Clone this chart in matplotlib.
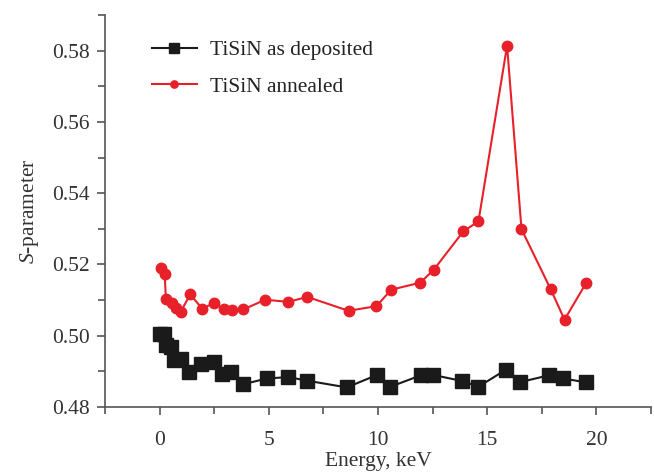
import numpy as np
import matplotlib.pyplot as plt
from matplotlib.ticker import MultipleLocator

plt.rcParams['font.family'] = ['Liberation Serif', 'DejaVu Serif']
plt.rcParams['mathtext.fontset'] = 'custom'
plt.rcParams['mathtext.it'] = 'Liberation Serif:italic'

#-------------- data --------------
E_dep = [0.0, 0.2, 0.29, 0.52, 0.64, 0.99, 1.36, 1.88, 2.5, 2.88, 3.25, 3.84, 4.91,
         5.9, 6.74, 8.57, 9.96, 10.57, 11.97, 12.52, 13.85, 14.6, 15.84, 16.52,
         17.83, 18.49, 19.53]
S_dep = [0.5006, 0.5006, 0.4974, 0.4969, 0.4932, 0.4936, 0.4899, 0.4922, 0.4925,
         0.4892, 0.4897, 0.4864, 0.4880, 0.4884, 0.4874, 0.4855, 0.4890, 0.4857,
         0.4889, 0.4890, 0.4873, 0.4857, 0.4904, 0.4870, 0.4889, 0.4880, 0.4869]

E_ann = [0.05, 0.23, 0.29, 0.56, 0.75, 0.96, 1.4, 1.95, 2.5, 2.93, 3.31, 3.84, 4.84,
         5.9, 6.76, 8.65, 9.93, 10.6, 11.94, 12.55, 13.91, 14.6, 15.91, 16.57,
         17.91, 18.54, 19.54]
S_ann = [0.5190, 0.5174, 0.5103, 0.5092, 0.5079, 0.5066, 0.5116, 0.5076, 0.5092,
         0.5074, 0.5071, 0.5074, 0.5101, 0.5095, 0.5109, 0.5070, 0.5083, 0.5129,
         0.5149, 0.5185, 0.5293, 0.5321, 0.5814, 0.5299, 0.5130, 0.5045, 0.5149]
#----------------------------------

fs = 15.5

fig = plt.figure(figsize=(6.54, 4.74), dpi=100)
ax = fig.add_axes([105/654, 67/474, 546/654, 392/474])

ax.plot(E_dep, S_dep, color='#1a1a1a', lw=1.5, marker='s', ms=9.5,
        label='TiSiN as deposited')
ax.plot(E_ann, S_ann, color='#e8202a', lw=1.5, marker='o', ms=7.5,
        label='TiSiN annealed')

ax.set_xlim(-2.5, 22.5)
ax.set_ylim(0.48, 0.59)
ax.xaxis.set_major_locator(MultipleLocator(5))
ax.xaxis.set_minor_locator(MultipleLocator(2.5))
ax.yaxis.set_major_locator(MultipleLocator(0.02))
ax.yaxis.set_minor_locator(MultipleLocator(0.01))
ax.yaxis.set_major_formatter(plt.FormatStrFormatter('%.2f'))

for s in ['top', 'right']:
    ax.spines[s].set_visible(False)
for s in ['left', 'bottom']:
    ax.spines[s].set_color('#555555')
    ax.spines[s].set_linewidth(1.2)
ax.tick_params(which='both', direction='out', color='#555555', width=1.2,
               labelsize=fs, labelcolor='#333333')
ax.tick_params(which='major', length=6)
ax.tick_params(which='minor', length=5, labelbottom=False)
ax.tick_params(axis='x', pad=11)
ax.tick_params(axis='y', pad=5)

ax.set_xlabel('Energy, keV', fontsize=fs, color='#333333', labelpad=2)
ax.set_ylabel(r'$S$-parameter', fontsize=fs, color='#333333', labelpad=8)

leg = ax.legend(loc='upper left', bbox_to_anchor=(0.05, 0.985), fontsize=fs,
                frameon=False, markerscale=0.7, handlelength=2.1,
                handletextpad=0.6, labelspacing=0.75, labelcolor='#222222')

fig.savefig('out.png', dpi=100)
